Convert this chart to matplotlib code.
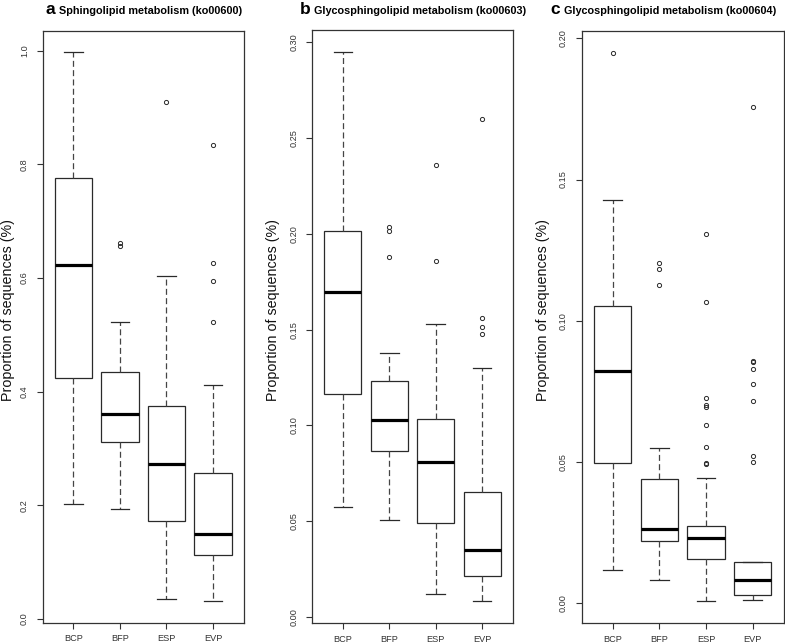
import matplotlib
matplotlib.use('agg')
import matplotlib.pyplot as plt
import numpy as np

plt.rcParams['font.family'] = ['Liberation Sans', 'DejaVu Sans']
plt.rcParams['lines.scale_dashes'] = False

groups = ['BCP', 'BFP', 'ESP', 'EVP']

# panel a: Sphingolipid metabolism (ko00600)
a_whislo = [0.2024, 0.194, 0.0352, 0.0317]
a_q1 = [0.4246, 0.312, 0.172, 0.1114]
a_med = [0.6235, 0.3607, 0.2733, 0.149]
a_q3 = [0.7766, 0.435, 0.3754, 0.2563]
a_whishi = [0.997, 0.523, 0.603, 0.412]
a_fliers = [[], [0.657, 0.662], [0.910], [0.834, 0.627, 0.595, 0.522]]

# panel b: Glycosphingolipid metabolism (ko00603)
b_whislo = [0.0573, 0.0507, 0.012, 0.0082]
b_q1 = [0.1162, 0.0867, 0.049, 0.0216]
b_med = [0.1698, 0.1026, 0.0807, 0.0348]
b_q3 = [0.2017, 0.1231, 0.1031, 0.0653]
b_whishi = [0.2949, 0.138, 0.1531, 0.1301]
b_fliers = [[], [0.2034, 0.2017, 0.1878], [0.236, 0.186],
            [0.2597, 0.1562, 0.1514, 0.1477]]

# panel c: Glycosphingolipid metabolism (ko00604)
c_whislo = [0.0119, 0.0081, 0.0007, 0.0013]
c_q1 = [0.0497, 0.0221, 0.0158, 0.0031]
c_med = [0.0824, 0.0264, 0.023, 0.0081]
c_q3 = [0.1051, 0.0439, 0.0272, 0.0148]
c_whishi = [0.1429, 0.0551, 0.0442, 0.0148]
c_fliers = [[0.1949], [0.1206, 0.1184, 0.1125],
            [0.1307, 0.1065, 0.0725, 0.0702, 0.0696, 0.063, 0.0554, 0.0497, 0.0492],
            [0.1755, 0.0859, 0.0855, 0.0828, 0.0776, 0.0716, 0.0521, 0.0499]]

panels = [
    ('a', 'Sphingolipid metabolism (ko00600)', a_whislo, a_q1, a_med, a_q3, a_whishi, a_fliers,
     [0.0, 0.2, 0.4, 0.6, 0.8, 1.0], '{:.1f}'),
    ('b', 'Glycosphingolipid metabolism (ko00603)', b_whislo, b_q1, b_med, b_q3, b_whishi, b_fliers,
     [0.0, 0.05, 0.10, 0.15, 0.20, 0.25, 0.30], '{:.2f}'),
    ('c', 'Glycosphingolipid metabolism (ko00604)', c_whislo, c_q1, c_med, c_q3, c_whishi, c_fliers,
     [0.0, 0.05, 0.10, 0.15, 0.20], '{:.2f}'),
]

W, H = 785, 644
fig = plt.figure(figsize=(W / 100, H / 100), dpi=100)

# axes boxes in pixels (left, right, top, bottom)
boxes_px = [(42.7, 243.7, 30.5, 622.7), (312.3, 512.7, 30, 623.3), (581.7, 783.5, 30.7, 623.3)]
label_off = [28, 32, 32]
letter_x = [45, 300, 550]
title_x = [59, 314, 564]

line_col = '#2a2a2a'
for (letter, title, wlo, q1, med, q3, whi, fl, yt, fmt), (l, r, t, b), lo_px, lx, tx in zip(
        panels, boxes_px, label_off, letter_x, title_x):
    ax = fig.add_axes([l / W, 1 - b / H, (r - l) / W, (b - t) / H])
    stats = []
    for i in range(4):
        stats.append(dict(label=groups[i], whislo=wlo[i], q1=q1[i], med=med[i],
                          q3=q3[i], whishi=whi[i], fliers=fl[i]))
    ax.bxp(stats, positions=[1, 2, 3, 4], widths=0.8, patch_artist=True,
           boxprops=dict(facecolor='white', edgecolor=line_col, linewidth=0.9),
           medianprops=dict(color='black', linewidth=2.3, solid_capstyle='butt'),
           whiskerprops=dict(color='#444444', linewidth=0.9, linestyle=(0, (4.3, 2.4))),
           capprops=dict(color=line_col, linewidth=0.9),
           flierprops=dict(marker='o', markersize=3, markerfacecolor='none',
                           markeredgecolor=line_col, markeredgewidth=0.7))
    allv = wlo + whi + [v for f in fl for v in f]
    lo, hi = min(allv), max(allv)
    pad = (hi - lo) * 0.04
    ax.set_ylim(lo - pad, hi + pad)
    ax.set_xlim(0.34, 4.66)
    ax.set_yticks(yt)
    ax.set_yticklabels([fmt.format(v) for v in yt], rotation=90, va='center')
    ax.set_xticks([1, 2, 3, 4])
    ax.set_xticklabels(groups)
    ax.tick_params(axis='both', length=4.3, width=0.8, color='#333333',
                   labelsize=6.6, labelcolor='#333333')
    ax.tick_params(axis='y', pad=5.5)
    ax.tick_params(axis='x', pad=4.0)
    for s in ax.spines.values():
        s.set_linewidth(0.9)
        s.set_color('#333333')
    ax.set_ylabel('Proportion of sequences (%)', fontsize=10.3, color='#111111')
    ax.yaxis.set_label_coords(-lo_px / (r - l), (b - 310) / (b - t))

    fig.text(lx / W, 1 - 14 / H, letter, fontsize=12.5, fontweight='bold', va='baseline')
    fig.text(tx / W, 1 - 14 / H, title, fontsize=7.8, fontweight='bold', va='baseline')

plt.savefig('out.png', dpi=100)
